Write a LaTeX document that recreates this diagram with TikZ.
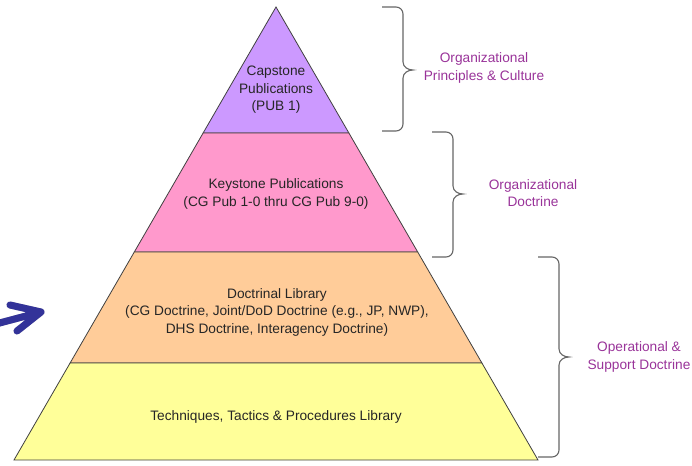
\documentclass[tikz,border=0pt]{standalone}
\usepackage{fontspec}
\setmainfont{Liberation Sans}
\usetikzlibrary{calc}
\definecolor{capfill}{HTML}{CC99FF}
\definecolor{keyfill}{HTML}{FF99CC}
\definecolor{docfill}{HTML}{FFCC99}
\definecolor{ttpfill}{HTML}{FFFF99}
\definecolor{lblcol}{HTML}{993399}
\definecolor{arrcol}{HTML}{333399}
\tikzset{
  layer/.style={draw=black!75, line width=0.8pt},
  txt/.style={font=\fontsize{13.7}{17.5}\selectfont, align=center, text=black!85},
  lbl/.style={font=\fontsize{13.7}{17.5}\selectfont, align=center, text=lblcol},
  bracket/.style={draw=black!60, line width=1.1pt},
  bluearrow/.style={draw=arrcol, line width=7pt, line cap=round, line join=round}
}

\begin{document}
\begin{tikzpicture}[x=1pt,y=-1pt]
      \useasboundingbox (0,0) rectangle (692,465);
      \coordinate (apex) at (276,7);
      \coordinate (bl) at (14,460);
      \coordinate (br) at (538,460);
      % layer corners along the sides
      \coordinate (l1) at ($(apex)!0.2781!(bl)$);
      \coordinate (r1) at ($(apex)!0.2781!(br)$);
      \coordinate (l2) at ($(apex)!0.5408!(bl)$);
      \coordinate (r2) at ($(apex)!0.5408!(br)$);
      \coordinate (l3) at ($(apex)!0.7859!(bl)$);
      \coordinate (r3) at ($(apex)!0.7859!(br)$);
      \filldraw[layer, fill=capfill] (apex) -- (r1) -- (l1) -- cycle;
      \filldraw[layer, fill=keyfill] (l1) -- (r1) -- (r2) -- (l2) -- cycle;
      \filldraw[layer, fill=docfill] (l2) -- (r2) -- (r3) -- (l3) -- cycle;
      \filldraw[layer, fill=ttpfill] (l3) -- (r3) -- (br) -- (bl) -- cycle;
      \node[txt] (capstone) at (276,90) {Capstone\\Publications\\(PUB 1)};
      \node[txt] (keystone) at (276,194) {Keystone Publications\\(CG Pub 1-0 thru CG Pub 9-0)};
      \node[txt] (doctrinal) at (277,312) {Doctrinal Library\\(CG Doctrine, Joint/DoD Doctrine (e.g., JP, NWP),\\DHS Doctrine, Interagency Doctrine)};
      \node[txt] (ttp) at (276,417) {Techniques, Tactics \& Procedures Library};
      % braces on the right
      \foreach \xl/\xv/\yt/\ym/\yb in {382/403/7/70/131, 432/453/132/194/257, 538/559/257/357/457} {
          \draw[bracket] (\xl,\yt) -- (\xv-7,\yt) to[out=0,in=90] (\xv,\yt+7)
              -- (\xv,\ym-8) to[out=-90,in=180] (\xv+10,\ym) to[out=180,in=90] (\xv,\ym+8)
              -- (\xv,\yb-7) to[out=-90,in=0] (\xv-7,\yb) -- (\xl,\yb);
      }
      \node[lbl] (principles) at (484,68) {Organizational\\Principles \& Culture};
      \node[lbl] (orgdoctrine) at (533,193) {Organizational\\Doctrine};
      \node[lbl] (operational) at (639,357) {Operational \&\\Support Doctrine};
      % pointer arrow
      \coordinate (arrtail) at (-8,325);
      \coordinate (arrtip) at (41,312);
      \begin{scope}[shift={(3,4)}]
          \draw[bluearrow, draw=black, opacity=0.25] (arrtail) -- (arrtip) (arrtip) -- ++(-31,-7) (arrtip) -- ++(-24,19);
      \end{scope}
      \draw[bluearrow] (arrtail) -- (arrtip) (arrtip) -- ++(-31,-7) (arrtip) -- ++(-24,19);
\end{tikzpicture}
\end{document}
